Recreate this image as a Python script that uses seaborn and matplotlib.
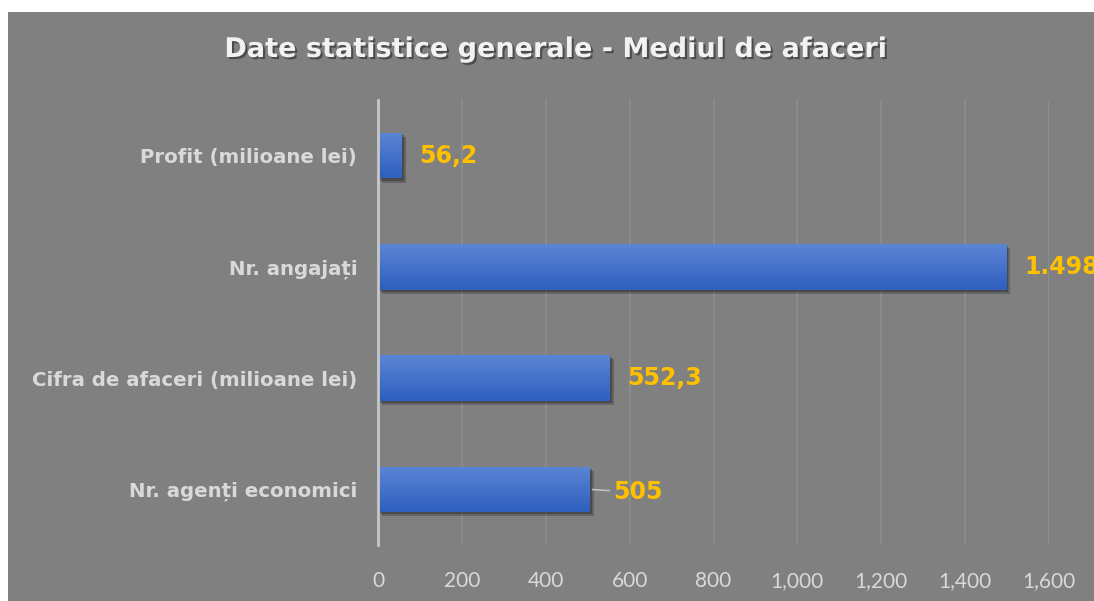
import numpy as np
import matplotlib
matplotlib.use('Agg')
import matplotlib.pyplot as plt
import matplotlib.patheffects as pe
from matplotlib.colors import LinearSegmentedColormap
from matplotlib.patches import Rectangle
from matplotlib.ticker import FuncFormatter
import seaborn as sns

# Data
categories = ['Profit (milioane lei)', 'Nr. angajați',
              'Cifra de afaceri (milioane lei)', 'Nr. agenți economici']
values = [56.2, 1498, 552.3, 505]
value_labels = ['56,2', '1.498', '552,3', '505']
x_ticks = [0, 200, 400, 600, 800, 1000, 1200, 1400, 1600]

BG = '#808080'
BAR = '#4472C4'
LABEL = '#FFC000'

sns.set_style('white')
plt.rcParams['font.family'] = ['DejaVu Sans']

fig = plt.figure(figsize=(10.94, 6.01), dpi=100, facecolor='white')
# gray chart area with a white strip on the top and left
fig.add_artist(Rectangle((8 / 1094, 0), 1, 1 - 12 / 601, transform=fig.transFigure,
                         facecolor=BG, edgecolor='none', zorder=-10))

ax = fig.add_axes([378 / 1094, 1 - 545 / 601, (1049 - 378) / 1094, (545 - 100) / 601])
ax.set_facecolor('none')

sns.barplot(x=values, y=categories, orient='h', color=BAR, width=0.41,
            saturation=1, ax=ax, zorder=3, edgecolor='none', linewidth=0)

ax.set_xlim(0, 1600)
ax.set_ylim(3.5, -0.5)

# gradient fill + soft shadow on each bar
cmap = LinearSegmentedColormap.from_list('bar', ['#5B85D5', '#2F5FBF'])
grad = np.linspace(0, 1, 64).reshape(-1, 1)
for bar in ax.patches:
    x0, y0 = bar.get_x(), bar.get_y()
    w, h = bar.get_width(), bar.get_height()
    bar.set_path_effects([pe.SimplePatchShadow(offset=(3, -3), alpha=0.22,
                                               shadow_rgbFace='black'),
                          pe.SimplePatchShadow(offset=(1.5, -1.5), alpha=0.25,
                                               shadow_rgbFace='black'),
                          pe.Normal()])
    im = ax.imshow(grad, extent=(x0, x0 + w, y0 + h, y0), cmap=cmap,
                   aspect='auto', zorder=4, interpolation='bilinear')
    im.set_clip_path(bar)
ax.set_xlim(0, 1600)
ax.set_ylim(3.5, -0.5)

# data labels
for i, (v, lab) in enumerate(zip(values, value_labels)):
    if i == 3:
        ax.annotate(lab, xy=(v, i), xytext=(23, -3), textcoords='offset pixels',
                    ha='left', va='center', color=LABEL, fontsize=17,
                    fontweight='bold', annotation_clip=False,
                    arrowprops=dict(arrowstyle='-', color='#BFBFBF', lw=1.2,
                                    shrinkA=0, shrinkB=2))
    else:
        ax.annotate(lab, xy=(v, i), xytext=(18, 0), textcoords='offset pixels',
                    ha='left', va='center', color=LABEL, fontsize=17,
                    fontweight='bold', annotation_clip=False)

# axes styling
ax.set_xticks(x_ticks)
ax.xaxis.set_major_formatter(FuncFormatter(lambda v, p: f'{int(v):,}'))
ax.grid(axis='x', color='#8E8E8E', lw=1.2, zorder=0)
ax.set_axisbelow(True)
for s in ['top', 'right', 'bottom']:
    ax.spines[s].set_visible(False)
ax.spines['left'].set_color('#C8C8C8')
ax.spines['left'].set_linewidth(2)
ax.spines['left'].set_zorder(5)
ax.tick_params(axis='x', length=0, pad=19, labelsize=15, labelcolor='#D9D9D9')
ax.tick_params(axis='y', length=0, pad=15, labelsize=14.2, labelcolor='#D9D9D9')
for t in ax.get_xticklabels():
    t.set_family(['Lato', 'DejaVu Sans'])
    t.set_fontweight('normal')
for t in ax.get_yticklabels():
    t.set_fontweight('bold')
ax.set_xlabel('')
ax.set_ylabel('')

fig.text(556 / 1094, 1 - 50 / 601, 'Date statistice generale - Mediul de afaceri',
         ha='center', va='center', color='#F2F2F2', fontsize=19.5, fontweight='bold',
         path_effects=[pe.withSimplePatchShadow(offset=(1.5, -1.5), alpha=0.4,
                                                shadow_rgbFace='black')])

fig.savefig('out.png', dpi=100, facecolor='white')
